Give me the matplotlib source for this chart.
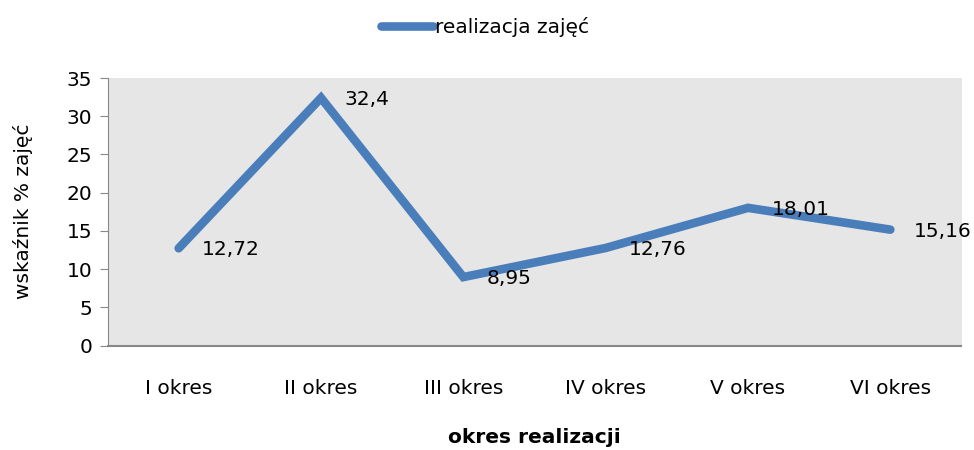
import matplotlib
matplotlib.use("Agg")
import matplotlib.pyplot as plt

categories = ["I okres", "II okres", "III okres", "IV okres", "V okres", "VI okres"]
values = [12.72, 32.4, 8.95, 12.76, 18.01, 15.16]
labels = ["12,72", "32,4", "8,95", "12,76", "18,01", "15,16"]

plt.rcParams["font.family"] = ["DejaVu Sans"]
plt.rcParams["font.size"] = 14.5

fig = plt.figure(figsize=(9.74, 4.5), dpi=100)
ax = fig.add_axes([107.5 / 974, 1 - 345.5 / 450, 854 / 974, 267.5 / 450])
ax.set_facecolor("#E6E6E6")

x = range(len(categories))
line, = ax.plot(x, values, color="#4A7EBB", linewidth=6.2, solid_capstyle="round",
                solid_joinstyle="miter", label="realizacja zajęć")

for xi, v, lab in zip(x, values, labels):
    ax.annotate(lab, (xi, v), xytext=(17, -1), textcoords="offset points",
                ha="left", va="center")

ax.set_xlim(-0.5, len(categories) - 0.5)
ax.set_ylim(0, 35)
ax.set_yticks(range(0, 36, 5))
ax.set_xticks(list(x))
ax.set_xticklabels(categories)
ax.tick_params(axis="x", length=0, pad=24)
ax.tick_params(axis="y", length=6, color="#888888", pad=5)

for s in ["top", "right"]:
    ax.spines[s].set_visible(False)
ax.spines["left"].set_color("#888888")
ax.spines["bottom"].set_color("#888888")
ax.spines["bottom"].set_linewidth(1.5)

ax.set_ylabel("wskaźnik % zajęć", labelpad=24)
ax.set_xlabel("okres realizacji", fontweight="bold", labelpad=22)

fig.legend(handles=[line], loc="center", bbox_to_anchor=(485 / 974, 1 - 27 / 450),
           frameon=False, handlelength=2.6, handletextpad=0.1)

fig.savefig("out.png", dpi=100)
